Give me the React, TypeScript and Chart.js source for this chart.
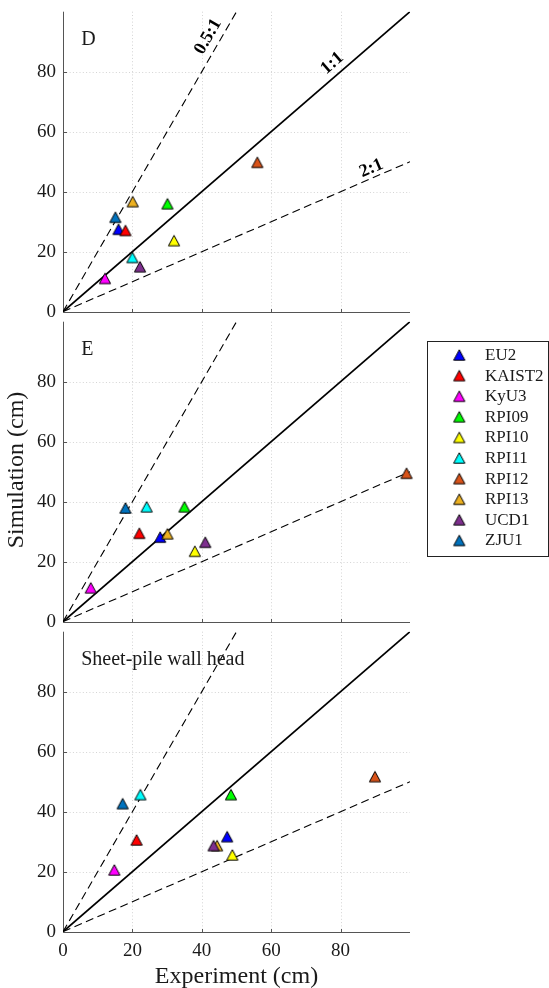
import React, { useEffect, useRef } from "react";
import { Chart, registerables } from "chart.js";
Chart.register(...registerables);

// ---------- data ----------
const groups = ["EU2", "KAIST2", "KyU3", "RPI09", "RPI10", "RPI11", "RPI12", "RPI13", "UCD1", "ZJU1"];
const groupColors = ["#0000FF", "#FF0000", "#FF00FF", "#00FF00", "#FFFF00", "#00FFFF", "#D95319", "#EDB120", "#7E2F8E", "#0072BD"];

const panelLabels = ["D", "E", "Sheet-pile wall head"];

// Panel D
const expD = [16.0, 18.0, 12.1, 30.1, 32.0, 20.0, 56.0, 20.1, 22.2, 15.1];
const simD = [27.5, 27.1, 11.1, 36.0, 23.7, 18.1, 49.8, 36.7, 15.0, 31.5];
// Panel E
const expE = [28.0, 22.0, 8.0, 35.0, 38.0, 24.1, 99.0, 30.1, 41.0, 18.0];
const simE = [28.2, 29.5, 11.3, 38.3, 23.5, 38.3, 49.5, 29.3, 26.5, 37.9];
// Sheet-pile wall head
const expH = [47.3, 21.2, 14.8, 48.4, 48.8, 22.3, 89.9, 44.4, 43.4, 17.2];
const simH = [31.7, 30.6, 20.6, 45.7, 25.6, 45.7, 51.7, 28.7, 28.7, 42.7];

const panelExp = [expD, expE, expH];
const panelSim = [simD, simE, simH];

const tickValues = [0, 20, 40, 60, 80];
const axisMin = 0;
const axisMax = 100;

const refNames = ["0.5:1", "1:1", "2:1"];
const refEndX = [50, 100, 100];
const refEndY = [100, 100, 50];
const refLabelX = [41.8, 77.6, 88.9];
const refLabelY = [91.7, 82.8, 47.8];

const xTitle = "Experiment (cm)";
const yTitle = "Simulation (cm)";

// ---------- styles ----------
const SERIF = "'Liberation Serif', 'Times New Roman', serif";
const AXIS_COLOR = "#555555";
const GRID_COLOR = "#d4d4d4";
const TEXT_COLOR = "#1a1a1a";

// canvas top (page px), canvas height, top padding, x-axis box height
const panelLayout = [
  { top: -6, height: 335, padTop: 17.7, xAxisH: 17.3 },
  { top: 304, height: 335, padTop: 17.7, xAxisH: 17.3 },
  { top: 614, height: 374, padTop: 17.7, xAxisH: 56.3 },
];

let triCache: HTMLCanvasElement[] | null = null;
function triangles(): HTMLCanvasElement[] {
  if (triCache) return triCache;
  triCache = groupColors.map((col) => {
    const c = document.createElement("canvas");
    c.width = 16;
    c.height = 16;
    const g = c.getContext("2d")!;
    g.beginPath();
    g.moveTo(8, 2.8);
    g.lineTo(13.6, 13.2);
    g.lineTo(2.4, 13.2);
    g.closePath();
    g.fillStyle = col;
    g.fill();
    g.lineWidth = 1;
    g.strokeStyle = "#000";
    g.lineJoin = "miter";
    g.stroke();
    return c;
  });
  return triCache;
}

function decorPlugin(i: number, top: number) {
  return {
    id: "decor" + i,
    beforeDatasetsDraw(chart: any) {
      const { ctx, chartArea: a } = chart;
      const xs = chart.scales.x;
      const ys = chart.scales.y;
      ctx.save();
      ctx.lineWidth = 1;
      ctx.strokeStyle = GRID_COLOR;
      ctx.setLineDash([1, 2.3]);
      tickValues.forEach((v) => {
        if (v === axisMin) return;
        const px = Math.round(xs.getPixelForValue(v)) + 0.5;
        ctx.beginPath();
        ctx.moveTo(px, a.top);
        ctx.lineTo(px, a.bottom);
        ctx.stroke();
        const py = Math.round(ys.getPixelForValue(v)) + 0.5;
        ctx.beginPath();
        ctx.moveTo(a.left, py);
        ctx.lineTo(a.right, py);
        ctx.stroke();
      });
      ctx.setLineDash([]);
      ctx.strokeStyle = AXIS_COLOR;
      const ax = Math.round(a.left) + 0.5;
      const ay = Math.round(a.bottom) + 0.5;
      ctx.beginPath();
      ctx.moveTo(ax, a.top);
      ctx.lineTo(ax, ay);
      ctx.lineTo(a.right, ay);
      ctx.stroke();
      tickValues.forEach((v) => {
        const px = Math.round(xs.getPixelForValue(v)) + 0.5;
        ctx.beginPath();
        ctx.moveTo(px, ay);
        ctx.lineTo(px, ay - 3.5);
        ctx.stroke();
        const py = Math.round(ys.getPixelForValue(v)) + 0.5;
        ctx.beginPath();
        ctx.moveTo(ax, py);
        ctx.lineTo(ax + 3.5, py);
        ctx.stroke();
      });
      ctx.restore();
    },
    afterDraw(chart: any) {
      const { ctx, chartArea: a } = chart;
      const xs = chart.scales.x;
      const ys = chart.scales.y;
      ctx.save();
      ctx.fillStyle = TEXT_COLOR;
      // panel label
      ctx.font = `20px ${SERIF}`;
      ctx.textAlign = "left";
      ctx.textBaseline = "middle";
      ctx.fillText(panelLabels[i], xs.getPixelForValue(5.25), ys.getPixelForValue(90.5));

      // ratio labels (panel D only)
      if (i === 0) {
        ctx.font = `bold 18px ${SERIF}`;
        ctx.textAlign = "center";
        ctx.textBaseline = "middle";
        ctx.fillStyle = "#000";
        refNames.forEach((n, r) => {
          const x0 = xs.getPixelForValue(0);
          const y0 = ys.getPixelForValue(0);
          const x1 = xs.getPixelForValue(refEndX[r]);
          const y1 = ys.getPixelForValue(refEndY[r]);
          const ang = Math.atan2(y1 - y0, x1 - x0);
          ctx.save();
          ctx.translate(xs.getPixelForValue(refLabelX[r]), ys.getPixelForValue(refLabelY[r]));
          ctx.rotate(ang);
          ctx.fillText(n, 0, 0);
          ctx.restore();
        });
      }

      // y title + legend on middle panel
      if (i === 1) {
        ctx.fillStyle = TEXT_COLOR;
        ctx.font = `24px ${SERIF}`;
        ctx.textAlign = "center";
        ctx.textBaseline = "middle";
        ctx.save();
        ctx.translate(17, 470 - top);
        ctx.rotate(-Math.PI / 2);
        ctx.fillText(yTitle, 0, 0);
        ctx.restore();

        const boxL = 427.5, boxT = 341.5 - top, boxR = 548.5, boxB = 556.5 - top;
        ctx.fillStyle = "#fff";
        ctx.fillRect(boxL, boxT, boxR - boxL, boxB - boxT);
        ctx.strokeStyle = "#222";
        ctx.lineWidth = 1;
        ctx.strokeRect(boxL, boxT, boxR - boxL, boxB - boxT);
        const tri = triangles();
        ctx.font = `17px ${SERIF}`;
        ctx.textAlign = "left";
        ctx.textBaseline = "middle";
        ctx.fillStyle = TEXT_COLOR;
        groups.forEach((g, k) => {
          const cy = 355 - top + k * 20.6;
          ctx.drawImage(tri[k], 459.3 - 8, cy - 8);
          ctx.fillText(g, 485, cy + 0.5);
        });
      }

      // x title on bottom panel
      if (i === 2) {
        ctx.fillStyle = TEXT_COLOR;
        ctx.font = `24px ${SERIF}`;
        ctx.textAlign = "center";
        ctx.textBaseline = "middle";
        ctx.fillText(xTitle, (a.left + a.right) / 2, a.bottom + 45);
      }
      ctx.restore();
    },
  };
}

function makeConfig(i: number): any {
  const L = panelLayout[i];
  const tri = triangles();
  const datasets: any[] = groups.map((g, k) => ({
    type: "scatter",
    label: g,
    data: [{ x: panelExp[i][k], y: panelSim[i][k] }],
    pointStyle: tri[k],
    pointRadius: 6,
    order: groups.length - k,
    clip: false,
  }));
  refNames.forEach((n, r) => {
    datasets.push({
      type: "scatter",
      label: n,
      data: [
        { x: 0, y: 0 },
        { x: refEndX[r], y: refEndY[r] },
      ],
      showLine: true,
      borderColor: "#000",
      borderWidth: r === 1 ? 1.7 : 1.1,
      borderDash: r === 1 ? [] : [8, 4.5],
      pointRadius: 0,
      order: 50,
    });
  });
  const tickFont = { family: SERIF, size: 19, lineHeight: 1 };
  const tickCb = (v: any) => (tickValues.includes(Number(v)) ? String(v) : "");
  return {
    type: "scatter",
    data: { datasets },
    options: {
      responsive: false,
      animation: false,
      devicePixelRatio: 1,
      events: [],
      layout: { padding: { top: L.padTop, right: 139, bottom: 0, left: 0 } },
      plugins: { legend: { display: false }, tooltip: { enabled: false } },
      scales: {
        x: {
          type: "linear",
          min: axisMin,
          max: axisMax,
          afterFit: (s: any) => {
            s.height = L.xAxisH;
          },
          grid: { display: false, drawTicks: false },
          border: { display: false },
          ticks: {
            display: i === 2,
            stepSize: 20,
            autoSkip: false,
            maxRotation: 0,
            padding: 10,
            font: tickFont,
            color: TEXT_COLOR,
            callback: tickCb,
          },
        },
        y: {
          type: "linear",
          min: axisMin,
          max: axisMax,
          afterFit: (s: any) => {
            s.width = 63;
          },
          grid: { display: false, drawTicks: false },
          border: { display: false },
          ticks: {
            stepSize: 20,
            autoSkip: false,
            padding: 7,
            font: tickFont,
            color: TEXT_COLOR,
            callback: tickCb,
          },
        },
      },
    },
    plugins: [decorPlugin(i, L.top)],
  };
}

export default function App() {
  const r0 = useRef<HTMLCanvasElement>(null);
  const r1 = useRef<HTMLCanvasElement>(null);
  const r2 = useRef<HTMLCanvasElement>(null);
  const refs = [r0, r1, r2];
  useEffect(() => {
    const charts = refs.map((r, i) => new Chart(r.current as HTMLCanvasElement, makeConfig(i)));
    return () => charts.forEach((c) => c.destroy());
  }, []);
  return (
    <div style={{ position: "absolute", left: 0, top: 0, width: 549, height: 988, background: "#fff", overflow: "hidden" }}>
      {panelLayout.map((L, i) => (
        <canvas
          key={i}
          ref={refs[i]}
          width={549}
          height={L.height}
          style={{ position: "absolute", left: 0, top: L.top, width: 549, height: L.height }}
        />
      ))}
    </div>
  );
}
